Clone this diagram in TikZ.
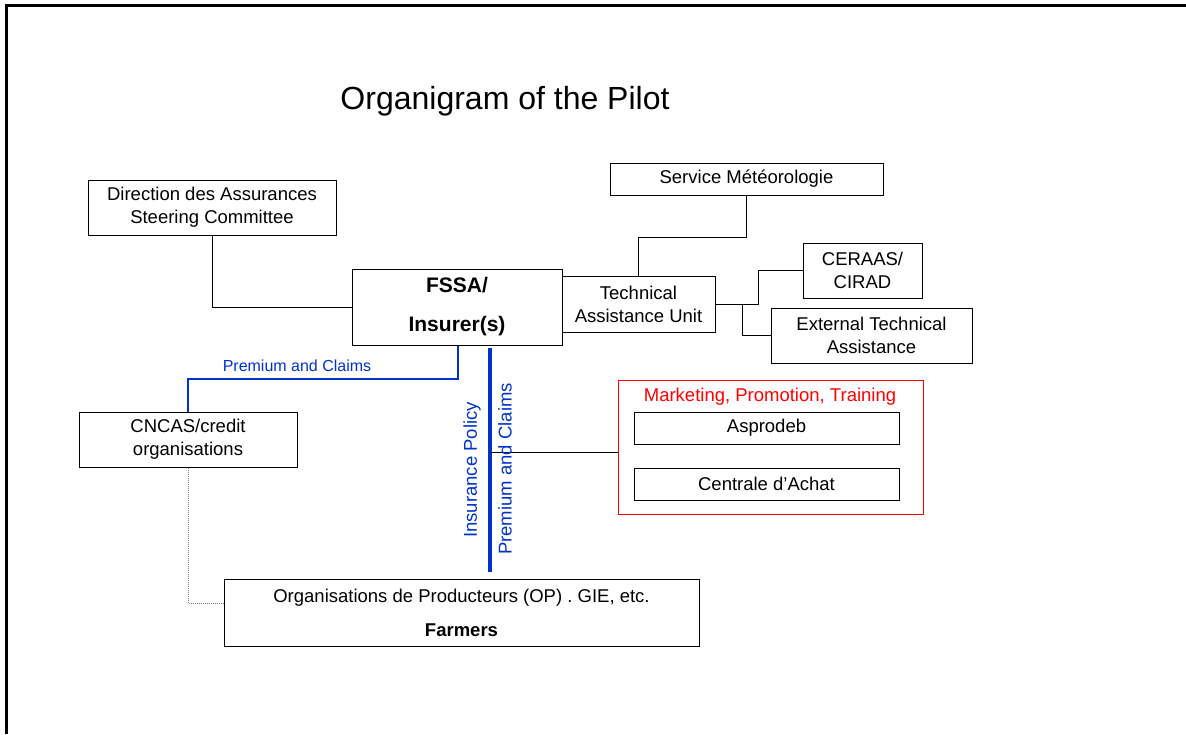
\documentclass[tikz,border=0pt]{standalone}
\usepackage{fontspec}
\setmainfont{Liberation Sans}
\definecolor{flowblue}{RGB}{0,51,204}

\begin{document}
\begin{tikzpicture}[x=1pt, y=-1pt,
    box/.style={draw, line width=1pt, align=center, inner sep=0pt, font=\fontsize{18.5}{23}\selectfont},
    flow/.style={draw=flowblue, line width=2pt},
    lbl/.style={text=flowblue, font=\fontsize{18.5}{22}\selectfont}]
    \useasboundingbox (0,0) rectangle (1186,734);
    \draw[line width=3pt] (1186,5) -- (6,5) -- (6,734);
    \node[font=\fontsize{32}{38}\selectfont] (title) at (505,101) {Organigram of the Pilot};

    \node[box, minimum width=248, minimum height=55] (dir) at (212,207.5) {Direction des Assurances\\Steering Committee};
    \node[box, minimum width=210, minimum height=76, font=\bfseries\fontsize{21}{39}\selectfont] (fssa) at (457,307) {FSSA/\\Insurer(s)};
    \node[box, minimum width=153, minimum height=56] (tau) at (638.5,304) {Technical\\Assistance Unit};
    \node[box, minimum width=273, minimum height=32] (met) at (746.5,179) {Service Météorologie};
    \node[box, minimum width=119, minimum height=55] (ceraas) at (862.5,270.5) {CERAAS/\\CIRAD};
    \node[box, minimum width=201, minimum height=55] (ext) at (871.5,335.5) {External Technical\\Assistance};
    \node[box, minimum width=218, minimum height=55] (cncas) at (188,439.5) {CNCAS/credit\\organisations};
    \node[box, minimum width=475, minimum height=67, font=\fontsize{18.5}{34}\selectfont] (farmers) at (461.5,612.5) {Organisations de Producteurs (OP) . GIE, etc.\\\textbf{Farmers}};

    \node[draw=red, line width=1pt, minimum width=305, minimum height=134] (mkt) at (770.5,447) {};
    \node[text=red, font=\fontsize{18.5}{22}\selectfont] (mkttitle) at (770,397) {Marketing, Promotion, Training};
    \node[box, minimum width=265, minimum height=32] (asp) at (766.5,428) {Asprodeb};
    \node[box, minimum width=265, minimum height=32] (cda) at (766.5,484) {Centrale d’Achat};

    \draw[line width=1pt] (dir.south) |- (fssa.west);
    \draw[line width=1pt] (met.south) -- ++(0,42) -| (tau.north);
    \draw[line width=1pt] (tau.east) -- ++(43,0) |- (ceraas.west);
    \draw[line width=1pt] ([xshift=27pt]tau.east) |- (ext.west);
    \draw[line width=1pt, densely dotted, gray] (cncas.south) |- ([yshift=9.5pt]farmers.west);

    \draw[flow] ([xshift=1pt]fssa.south) -- ++(0,33) -| (cncas.north);
    \node[lbl, font=\fontsize{16}{19}\selectfont] (prem) at (297,366) {Premium and Claims};

    \coordinate (ptop) at (490,348);
    \coordinate (pbot) at (490,572);
    \coordinate (pmid) at (490,452);
    \draw[draw=flowblue, line width=3.5pt] (ptop) -- (pbot);
    \draw[line width=1pt] (pmid) -- (pmid -| mkt.west);
    \node[lbl, rotate=90] (ipol) at (472,470) {Insurance Policy};
    \node[lbl, rotate=90] (pclaims) at (505,469) {Premium and Claims};
\end{tikzpicture}
\end{document}
